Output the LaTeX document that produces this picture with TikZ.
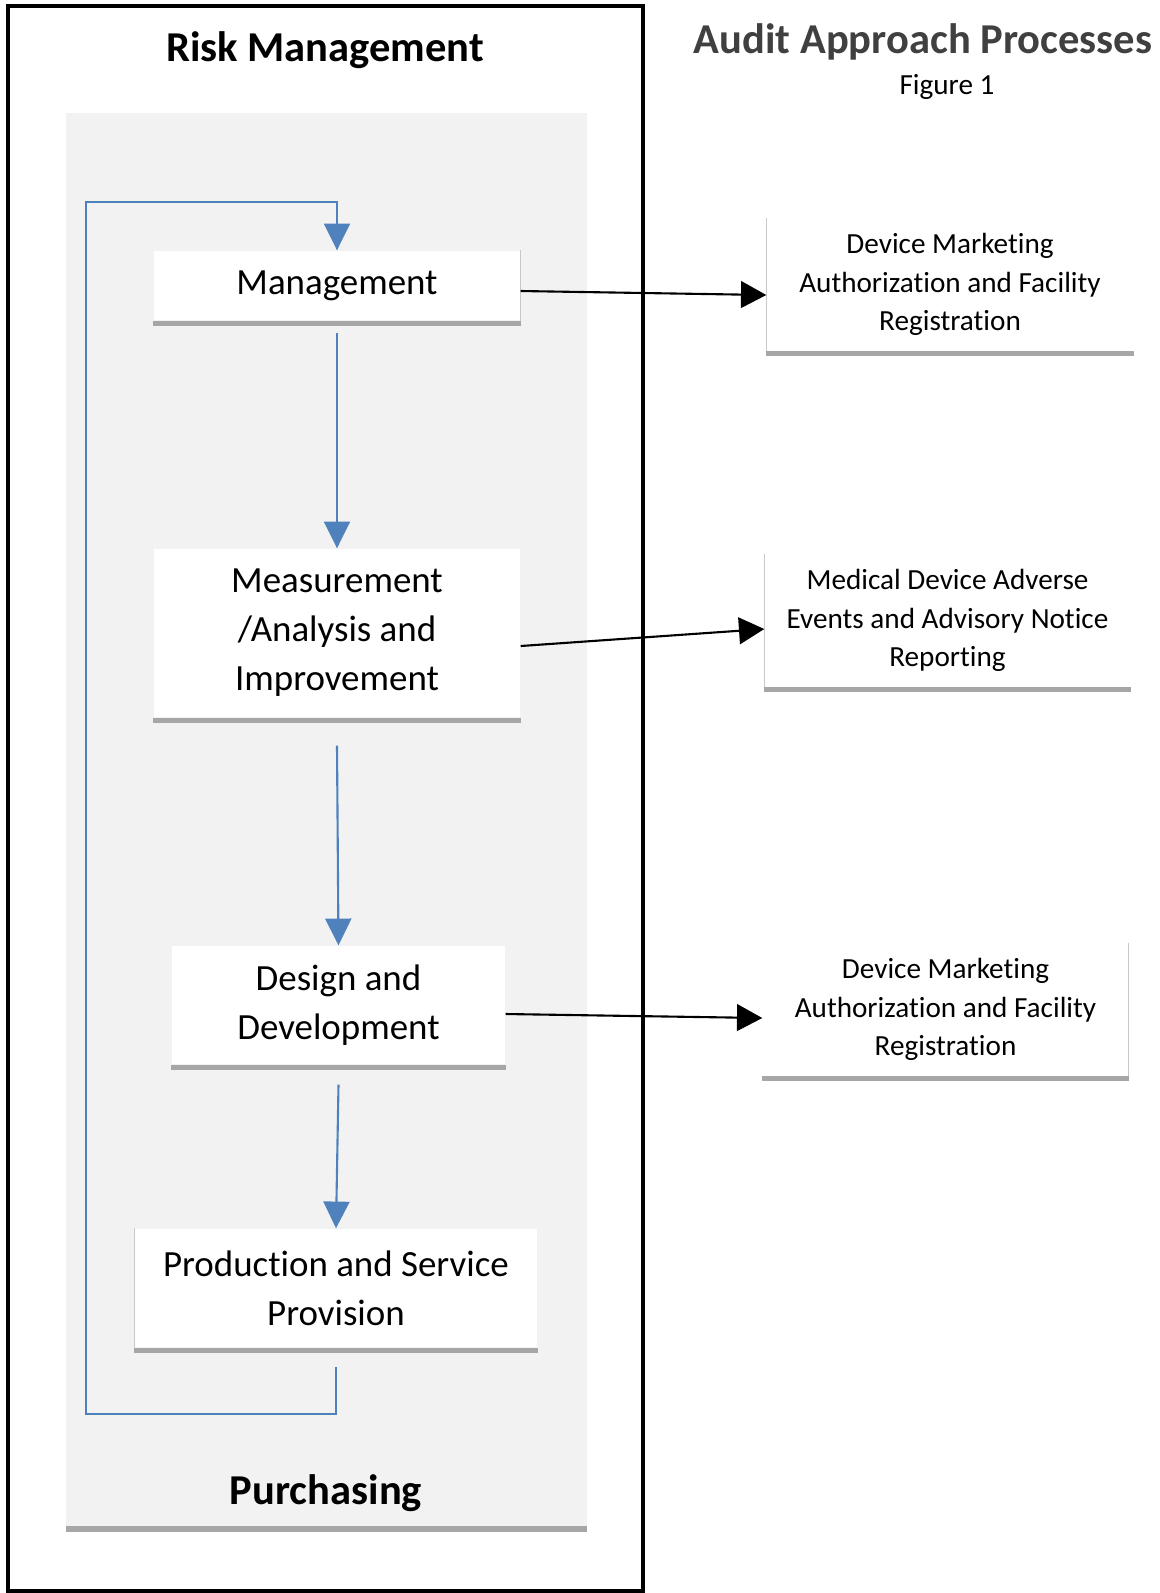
\documentclass[tikz,border=0pt]{standalone}
\usepackage{fontspec}
\setmainfont[Ligatures={NoCommon,NoContextual},RawFeature={-liga;-clig;-dlig;-calt}]{Carlito}
\usetikzlibrary{arrows.meta}
\definecolor{panel}{HTML}{F2F2F2}
\definecolor{shad}{HTML}{A6A6A6}
\definecolor{loopblue}{HTML}{4F81BD}
\definecolor{titlegray}{HTML}{404040}
\definecolor{edgegray}{HTML}{C8C8C8}
\begin{document}
\begin{tikzpicture}[x=0.01cm,y=-0.01cm,
  procbox/.style={fill=white, inner sep=0pt, align=center, font=\fontsize{10.5}{13.94}\selectfont},
  sidebox/.style={fill=white, inner sep=0pt, align=center, font=\fontsize{8.3}{10.95}\selectfont},
  bigtitle/.style={inner sep=0pt, font=\fontsize{12.1}{14}\selectfont\bfseries},
  flow/.style={loopblue, line width=0.6pt, -{Triangle[width=7.4pt,length=7.6pt]}},
  link/.style={black, line width=0.6pt, -{Triangle[width=7.6pt,length=7.2pt]}},
]
\useasboundingbox (0,0) rectangle (1159,1593);
\fill[white] (0,0) rectangle (1159,1593);
% outer frame
\draw[line width=1.15pt] (8,6) rectangle (643,1591);
% grey panel
\fill[panel] (66,113) rectangle (587,1526);
\fill[shad] (66,1526) rectangle (587,1532);

\node[bigtitle] (rm) at (325,50) {Risk Management};
\node[bigtitle] (pur) at (326,1493) {Purchasing};
\node[bigtitle, text=titlegray] (aap) at (923,42) {Audit Approach Processes};
\node[inner sep=0pt, font=\fontsize{8.3}{10}\selectfont] (fig) at (947,87) {Figure 1};

% process boxes
\node[procbox, minimum width=366*0.01cm, minimum height=69*0.01cm] (mgmt) at (337,285.5) {Management};
\node[procbox, minimum width=366*0.01cm, minimum height=168*0.01cm] (meas) at (337,633) {Measurement\\/Analysis and\\Improvement};
\node[procbox, minimum width=333*0.01cm, minimum height=118*0.01cm] (des) at (338.5,1005) {Design and\\Development};
\node[procbox, minimum width=402*0.01cm, minimum height=118*0.01cm] (prod) at (336,1288) {Production and Service\\Provision};

% side boxes
\node[sidebox, minimum width=366*0.01cm, minimum height=131*0.01cm] (s1) at (950,284.5) {Device Marketing\\Authorization and Facility\\Registration};
\node[sidebox, minimum width=365*0.01cm, minimum height=131*0.01cm] (s2) at (947.5,620.5) {Medical Device Adverse\\Events and Advisory Notice\\Reporting};
\node[sidebox, minimum width=365*0.01cm, minimum height=131*0.01cm] (s3) at (945.5,1009.5) {Device Marketing\\Authorization and Facility\\Registration};

% shadows
\foreach \b in {mgmt,meas,des,prod,s1,s2,s3}{
  \fill[shad] (\b.south west) rectangle ([yshift=-0.05cm]\b.south east);
}
% faint edges
\draw[edgegray, line width=0.4pt] (s1.north west) -- (s1.south west);
\draw[edgegray, line width=0.4pt] (s2.north west) -- (s2.south west);
\draw[edgegray, line width=0.4pt] (s3.north east) -- (s3.south east);
\draw[edgegray, line width=0.4pt] (mgmt.north east) -- (mgmt.south east);
\draw[edgegray, line width=0.4pt] (prod.north west) -- (prod.south west);

% blue flow
\draw[flow] ([yshift=-0.12cm]mgmt.south) -- (meas.north);
\draw[flow] ([yshift=-0.28cm]meas.south) -- (des.north);
\draw[flow] ([yshift=-0.2cm]des.south) -- (prod.north);
\coordinate (lpbl) at (86,1414);
\coordinate (lptl) at (86,202);
\draw[flow] ([yshift=-0.19cm]prod.south) |- (lpbl) -- (lptl) -| (mgmt.north);

% black links
\draw[link] ([yshift=-0.055cm]mgmt.east) -- ([yshift=-0.105cm]s1.west);
\draw[link] ([yshift=-0.13cm]meas.east) -- ([yshift=-0.085cm]s2.west);
\draw[link] ([yshift=-0.09cm]des.east) -- ([yshift=-0.085cm]s3.west);
\end{tikzpicture}
\end{document}
